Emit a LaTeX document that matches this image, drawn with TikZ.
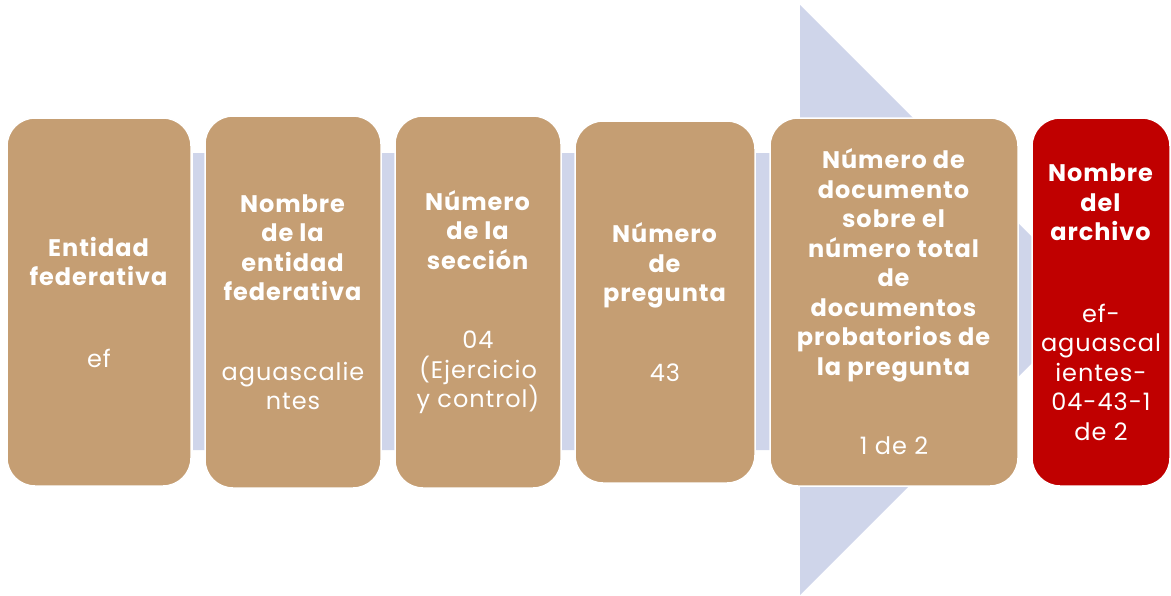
\documentclass[tikz,border=0pt]{standalone}
\usepackage{fontspec}
\setmainfont{Poppins}[LetterSpace=4]
\usetikzlibrary{positioning}

\definecolor{cafe}{HTML}{C59E73}
\definecolor{rojo}{HTML}{C00000}
\definecolor{azul}{HTML}{CFD5EA}

\begin{document}
\begin{tikzpicture}[
    x=1pt, y=-1pt,
    font=\fontsize{24}{29.5}\selectfont
]
\tikzset{
    campo/.style = {rectangle, rounded corners=28pt, fill=cafe, draw=white, line width=1.5pt,
                    text=white, align=center, inner sep=0pt},
    final/.style = {campo, fill=rojo},
    flecha/.style = {fill=azul}
}
\useasboundingbox (0,0) rectangle (1171,595);
% flecha de fondo
\fill[flecha] (193,153) -- (800,153) -- (800,5) -- (1095,300) -- (800,595) -- (800,450) -- (193,450) -- cycle;
% campos del nombre
\node[campo, minimum width=184pt, minimum height=368pt] at (99,302) (ef)
    {\textbf{Entidad}\\\textbf{federativa}\\[52pt]ef};
\node[campo, minimum width=176pt, minimum height=372pt] at (293,302) (nom)
    {\textbf{Nombre}\\\textbf{de la}\\\textbf{entidad}\\\textbf{federativa}\\[50pt]aguascalie\\ntes};
\node[campo, minimum width=166pt, minimum height=372pt] at (478,302) (sec)
    {\textbf{Número}\\\textbf{de la}\\\textbf{sección}\\[50pt]04\\(Ejercicio\\y control)};
\node[campo, minimum width=180pt, minimum height=362pt] at (665,302) (preg)
    {\textbf{Número}\\\textbf{de}\\\textbf{pregunta}\\[50pt]43};
\node[campo, minimum width=248pt, minimum height=368pt] at (894,302) (doc)
    {\textbf{Número de}\\\textbf{documento}\\\textbf{sobre el}\\\textbf{número total}\\\textbf{de}\\\textbf{documentos}\\\textbf{probatorios de}\\\textbf{la pregunta}\\[50pt]1 de 2};
\node[final, minimum width=138pt, minimum height=368pt] at (1101,302) (arch)
    {\textbf{Nombre}\\\textbf{del}\\\textbf{archivo}\\[52pt]ef-\\aguascal\\ientes-\\04-43-1\\de 2};
\end{tikzpicture}
\end{document}
